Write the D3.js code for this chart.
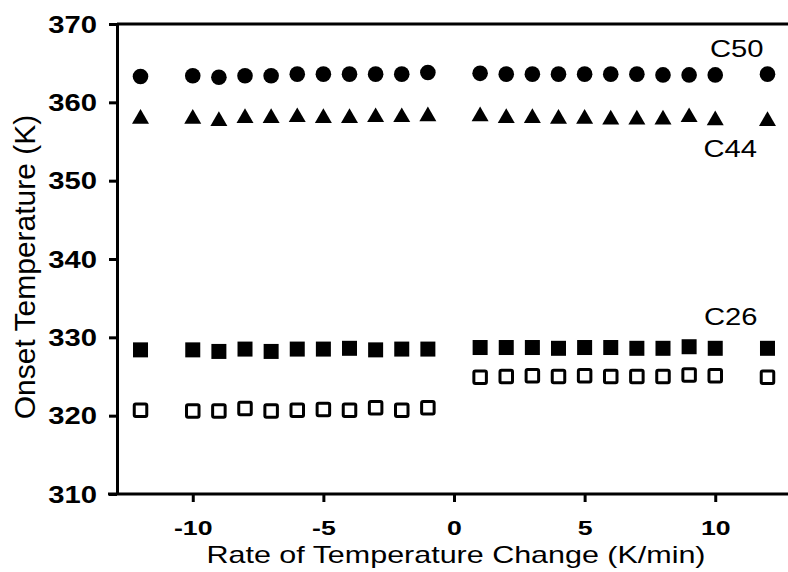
<!DOCTYPE html>
<html>
<head>
<meta charset="utf-8">
<script src="https://cdn.jsdelivr.net/npm/d3@7"></script>
<style>
  html, body { margin: 0; padding: 0; background: #fff; }
  svg { display: block; }
  text { font-family: "Liberation Sans", Arial, sans-serif; fill: #000; }
</style>
</head>
<body>
<svg id="chart" width="788" height="572"></svg>
<script>
// Heating/cooling rate (K/min)
const rates = [-12, -10, -9, -8, -7, -6, -5, -4, -3, -2, -1, 1, 2, 3, 4, 5, 6, 7, 8, 9, 10, 12];

// Onset temperatures (K) for each sample
const c50 = [363.3, 363.4, 363.2, 363.4, 363.4, 363.6, 363.6, 363.6, 363.6, 363.6, 363.8,
             363.7, 363.6, 363.6, 363.6, 363.6, 363.6, 363.6, 363.5, 363.5, 363.5, 363.6];
const c44 = [357.9, 357.9, 357.6, 358.0, 358.0, 358.1, 358.0, 358.0, 358.1, 358.1, 358.2,
             358.2, 358.0, 358.0, 357.9, 357.9, 357.8, 357.8, 357.8, 358.1, 357.7, 357.6];
const c26 = [328.4, 328.4, 328.2, 328.5, 328.2, 328.5, 328.5, 328.6, 328.4, 328.5, 328.5,
             328.7, 328.7, 328.7, 328.6, 328.7, 328.7, 328.6, 328.6, 328.8, 328.6, 328.6];
const c26open = [320.7, 320.6, 320.6, 320.9, 320.6, 320.7, 320.8, 320.7, 321.0, 320.7, 321.0,
                 324.9, 325.0, 325.1, 325.0, 325.1, 325.0, 325.0, 325.0, 325.2, 325.1, 324.9];

const xTicks = [-10, -5, 0, 5, 10];
const yTicks = [310, 320, 330, 340, 350, 360, 370];

// series labels, placed at their left edge / baseline in data units
const seriesLabels = [
  { text: "C50", x: 9.8, y: 365.8 },
  { text: "C44", x: 9.55, y: 353.0 },
  { text: "C26", x: 9.57, y: 331.6 }
];

const STRETCH = 1.27;   // wide lettering
const svg = d3.select("#chart");

const x = d3.scaleLinear().domain([-12.9, 12.9]).range([117, 791]);
const y = d3.scaleLinear().domain([310, 370]).range([494, 24]);

// frame line along the top
svg.append("line")
  .attr("x1", x(-12.9)).attr("x2", 800)
  .attr("y1", y(370)).attr("y2", y(370))
  .attr("stroke", "#000").attr("stroke-width", 3);

// y axis
const gy = svg.append("g")
  .attr("transform", `translate(${x(-12.9)},0)`)
  .call(d3.axisLeft(y).tickValues(yTicks).tickFormat(d => String(d))
    .tickSize(8).tickSizeOuter(0).tickPadding(12));
gy.select(".domain").attr("stroke-width", 3);
gy.selectAll(".tick line").attr("stroke-width", 3);
gy.selectAll(".tick text")
  .attr("x", null)
  .attr("dy", "0.36em")
  .attr("text-anchor", "end")
  .attr("transform", `translate(-20,0) scale(${STRETCH},1)`)
  .style("font-size", "23px").style("font-weight", "bold");

// x axis
const gx = svg.append("g")
  .attr("transform", `translate(0,${y(310)})`)
  .call(d3.axisBottom(x).tickValues(xTicks).tickFormat(d => String(d))
    .tickSize(8).tickSizeOuter(0).tickPadding(0));
gx.select(".domain").attr("d", `M${x(-12.9) - 9},0H800`).attr("stroke-width", 3);
gx.selectAll(".tick line").attr("stroke-width", 3);
gx.selectAll(".tick text")
  .attr("y", null).attr("dy", null)
  .attr("transform", `translate(0,41) scale(${STRETCH},1)`)
  .style("font-size", "21px").style("font-weight", "bold");

// axis titles
svg.append("text")
  .attr("transform", `translate(456,563) scale(${STRETCH},1)`)
  .attr("text-anchor", "middle")
  .style("font-size", "24px")
  .text("Rate of Temperature Change (K/min)");

svg.append("text")
  .attr("transform", "translate(35,267) rotate(-90)")
  .attr("text-anchor", "middle")
  .style("font-size", "30px")
  .text("Onset Temperature (K)");

// markers
const pts = arr => rates.map((r, i) => ({ r, v: arr[i] }));

svg.append("g").selectAll("circle")
  .data(pts(c50)).join("circle")
  .attr("cx", d => x(d.r)).attr("cy", d => y(d.v))
  .attr("r", 7.8).attr("fill", "#000");

const tri = d3.symbol().type(d3.symbolTriangle).size(125);
svg.append("g").selectAll("path")
  .data(pts(c44)).join("path")
  .attr("transform", d => `translate(${x(d.r)},${y(d.v)})`)
  .attr("d", tri).attr("fill", "#000");

const sq = 15;
svg.append("g").selectAll("rect")
  .data(pts(c26)).join("rect")
  .attr("x", d => x(d.r) - sq / 2).attr("y", d => y(d.v) - sq / 2)
  .attr("width", sq).attr("height", sq).attr("fill", "#000");

const osq = 12.5;
svg.append("g").selectAll("rect")
  .data(pts(c26open)).join("rect")
  .attr("x", d => x(d.r) - osq / 2).attr("y", d => y(d.v) - osq / 2)
  .attr("width", osq).attr("height", osq).attr("rx", 1.5)
  .attr("fill", "#fff").attr("stroke", "#000").attr("stroke-width", 3);

// series labels
svg.append("g").selectAll("text")
  .data(seriesLabels).join("text")
  .attr("transform", d => `translate(${x(d.x)},${y(d.y)}) scale(${STRETCH},1)`)
  .attr("text-anchor", "start")
  .style("font-size", "23px")
  .text(d => d.text);
</script>
</body>
</html>
